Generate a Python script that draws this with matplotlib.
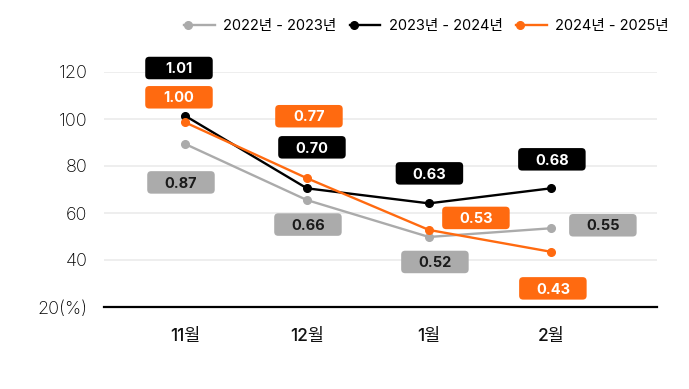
import matplotlib
matplotlib.use("Agg")
import matplotlib.pyplot as plt
import matplotlib.transforms as mtransforms
from matplotlib.lines import Line2D
from matplotlib.patches import FancyBboxPatch
from matplotlib.legend_handler import HandlerLine2D

plt.rcParams["font.family"] = ["Inter", "Noto Sans CJK KR", "DejaVu Sans"]

# ---- data ----
months = ["11월", "12월", "1월", "2월"]
series_names = ["2022년 - 2023년", "2023년 - 2024년", "2024년 - 2025년"]
vals_2223 = [89.4, 65.5, 49.8, 53.5]
vals_2324 = [101.4, 70.5, 64.1, 70.5]
vals_2425 = [98.6, 74.8, 52.8, 43.5]
lab_2223 = ["0.87", "0.66", "0.52", "0.55"]
lab_2324 = ["1.01", "0.70", "0.63", "0.68"]
lab_2425 = ["1.00", "0.77", "0.53", "0.43"]
yticks = [20, 40, 60, 80, 100, 120]
ytick_labels = ["20(%)", "40", "60", "80", "100", "120"]

# ---- style ----
GRAY, BLACK, ORANGE = "#ABABAB", "#000000", "#FF6A10"
series = [
    (vals_2223, lab_2223, GRAY, "#1A1A1A"),
    (vals_2324, lab_2324, BLACK, "white"),
    (vals_2425, lab_2425, ORANGE, "white"),
]
# label box centre offsets from each point, in pixels (dx right, dy down)
offsets = [
    [(-4, 38.5), (1, 24.5), (6, 25), (52, -3)],
    [(-6, -47.7), (5, -41), (0.5, -30), (1, -29)],
    [(-6, -25), (2, -62), (47, -12), (2, 36.6)],
]


class LeftDotHandler(HandlerLine2D):
    """legend handle: line with the marker at its left end"""
    def create_artists(self, legend, orig_handle, xdescent, ydescent,
                       width, height, fontsize, trans):
        y = (height - ydescent) / 2
        x0, x1 = -xdescent, -xdescent + width
        col = orig_handle.get_color()
        line = Line2D([x0, x1], [y, y], color=col, lw=orig_handle.get_linewidth())
        dot = Line2D([x0 + 3], [y], color=col, marker="o", ls="none",
                     ms=orig_handle.get_markersize())
        line.set_transform(trans)
        dot.set_transform(trans)
        return [line, dot]


fig = plt.figure(figsize=(6.89, 3.89), dpi=100)
ax = fig.add_axes([104 / 689, 1 - 307 / 389, 553 / 689, 235 / 389])
x = list(range(len(months)))

for vals, labs, col, tcol in series:
    ax.plot(x, vals, color=col, lw=1.7, marker="o", ms=5.5, zorder=3,
            solid_capstyle="round")

for (vals, labs, col, tcol), offs in zip(series, offsets):
    for xi, v, lab, (dx, dy) in zip(x, vals, labs, offs):
        trans = fig.dpi_scale_trans + mtransforms.ScaledTranslation(xi, v, ax.transData)
        cx, cy = dx / 100, -dy / 100
        w, h = 0.675, 0.225
        box = FancyBboxPatch((cx - w / 2, cy - h / 2), w, h,
                             boxstyle="round,pad=0,rounding_size=0.04",
                             transform=trans, fc=col, ec="none",
                             clip_on=False, zorder=4)
        ax.add_patch(box)
        ax.text(cx, cy - 0.052, lab, transform=trans, ha="center", va="baseline",
                fontsize=10.5, fontweight="bold", color=tcol, zorder=5,
                clip_on=False)

ax.set_xlim(-0.664, 3.87)
ax.set_ylim(20, 120)
ax.set_yticks(yticks)
ax.set_yticklabels(ytick_labels, fontsize=13, fontweight="light", color="#000000")
ax.set_xticks(x)
ax.set_xticklabels(months, fontsize=12.5, fontweight="medium", color="#111111")
ax.tick_params(axis="both", length=0)
ax.tick_params(axis="y", pad=12)
ax.tick_params(axis="x", pad=15)
for s in ["top", "right", "left"]:
    ax.spines[s].set_visible(False)
ax.spines["bottom"].set_linewidth(1.6)
ax.spines["bottom"].set_color("black")
ax.set_axisbelow(True)
ax.yaxis.grid(True, color="#EBEBEB", lw=1.2)

handles = [Line2D([], [], color=c, lw=1.7, marker="o", ms=5.5)
           for c in (GRAY, BLACK, ORANGE)]
fig.legend(handles, series_names, loc="center", bbox_to_anchor=(0.619, 0.933),
           ncol=3, frameon=False, fontsize=10.5,
           handler_map={Line2D: LeftDotHandler()},
           handlelength=2.1, handletextpad=0.6, columnspacing=0.9)

fig.savefig("out.png", dpi=100)
